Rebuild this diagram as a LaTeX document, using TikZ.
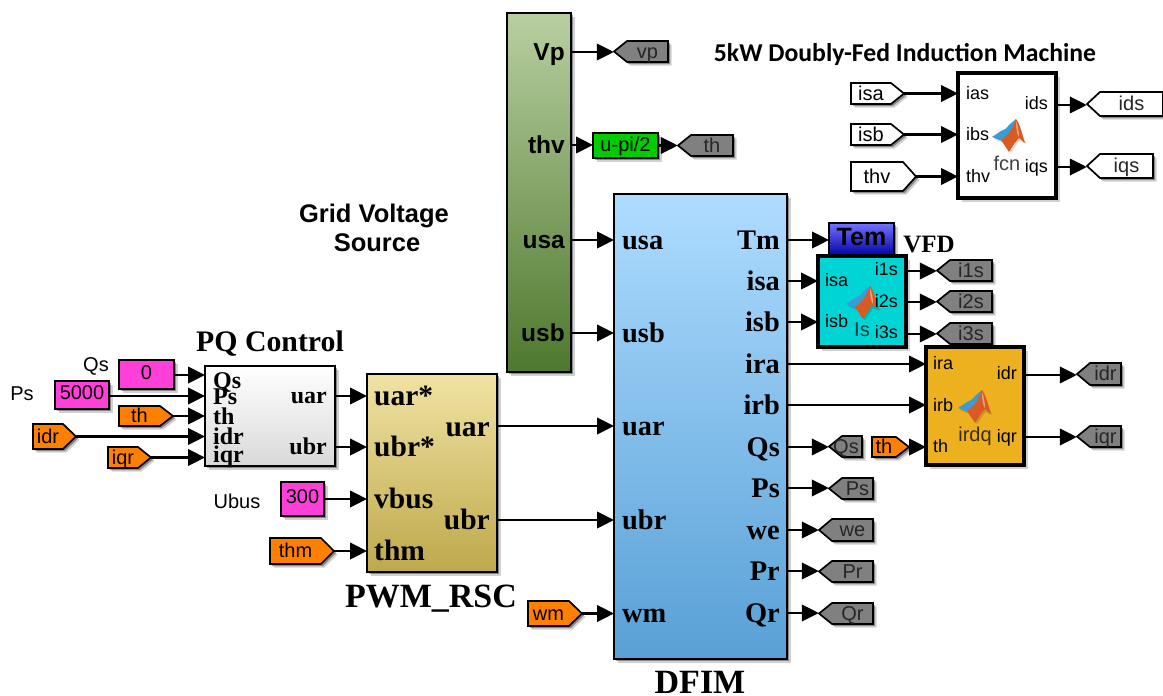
\documentclass[tikz,border=0pt]{standalone}
\usepackage{fontspec}
\setmainfont{Liberation Sans}
\newfontfamily\tmsfont{Liberation Serif}
\newfontfamily\calfont{Carlito}
\usetikzlibrary{arrows.meta,shadows,fit}
\definecolor{magc}{HTML}{FF40D8}
\definecolor{orgc}{HTML}{FF8000}
\definecolor{gryc}{HTML}{808080}
\definecolor{grnc}{HTML}{00CC00}
\definecolor{cync}{HTML}{00D4D4}
\definecolor{ambc}{HTML}{EDB120}
\definecolor{logob}{HTML}{3A9BD5}
\definecolor{logoo}{HTML}{D95B24}
\definecolor{logol}{HTML}{F0A080}
\newcommand\fsz[1]{\fontsize{#1}{#1}\selectfont}
\newcounter{lblc}
% options, anchor, x, y (middle of the lower-case letters), size, text
\newcommand\lb[6][]{\stepcounter{lblc}\node[anchor=#2,inner sep=0,#1] (lbl\arabic{lblc}) at ({#3},{(#4)+0.33*#5}) {\fsz{#5}#6};}
% block: style, name, x1,y1,x2,y2
\newcommand\blk[6]{\node[#1,inner sep=0,fit={(#3,#4)(#5,#6)}] (#2) {};}
\newcommand\port[3]{\coordinate (#1) at (#2,#3);}
% right-pointing tag: fill, name, x1,y1,x2,y2, text
\newcommand\tagR[8][0]{%
 \path[tagbox,fill=#2] (#4,#5) -- ({#6-13},#5) -- (#6,{(#5+#7)/2}) -- ({#6-13},#7) -- (#4,#7) -- cycle;
 \node[inner sep=0,fit={(#4,#5)(#6,#7)}] (#3) {};
 \lb{base}{(#4+#6-13)/2+#1}{(#5+#7)/2}{20}{#8}}
% left-pointing tag
\newcommand\tagL[8][0]{%
 \path[tagbox,fill=#2] (#4,{(#5+#7)/2}) -- ({#4+13},#5) -- (#6,#5) -- (#6,#7) -- ({#4+13},#7) -- cycle;
 \node[inner sep=0,fit={(#4,#5)(#6,#7)}] (#3) {};
 \lb[text=black!85]{base}{(#4+13+#6)/2+#1}{(#5+#7)/2}{20}{#8}}
% MATLAB logo, 33 x 33 box
\newcommand\mlogo[2]{\begin{scope}[shift={(#1,#2)}]
 \fill[black,opacity=.15] (2,20) -- (12,24) -- (19,34) -- (27,22) -- (34,25) -- (26,3) -- cycle;
 \fill[logob] (0,18) -- (9,12) -- (14,9.5) -- (18,5) -- (24,0) -- (18,15) -- (10,22) -- cycle;
 \fill[logoo] (24,0) .. controls (28,5) and (30,15) .. (33,24) -- (27,19) .. controls (23,23) and (20,28) .. (17,33) -- (9,21) -- (14,17) .. controls (19,13) and (21,7) .. (24,0) -- cycle;
 \fill[logol] (24,2) .. controls (26,7) and (27,13) .. (27,18) .. controls (25,16) and (24,9) .. (24,2) -- cycle;
\end{scope}}
\tikzset{
 softshadow/.style={general shadow={shadow xshift=3.5pt,shadow yshift=-3.5pt,opacity=.18,fill=black},general shadow={shadow xshift=2pt,shadow yshift=-2pt,opacity=.35,fill=black}},
 boxbase/.style={draw=black,line width=1.8pt,softshadow},
 tagbox/.style={draw=black,line width=1.7pt,line join=miter,softshadow},
 heavy/.style={draw=black,line width=3.6pt,softshadow},
 wire/.style={draw=black,line width=2.4pt,-{Triangle[length=17pt,width=16.5pt]}},
 tm/.style={execute at begin node=\tmsfont\bfseries},
}
\begin{document}
\begin{tikzpicture}[x=1pt,y=-1pt]
\useasboundingbox (0,0) rectangle (1163,696);
% === blocks
\blk{boxbase,top color=white,bottom color=black!15}{pq}{205}{366}{335}{466}
\blk{boxbase,top color={rgb,255:red,240;green,227;blue,163},bottom color={rgb,255:red,190;green,168;blue,75}}{pwm}{367}{374}{497}{572}
\blk{boxbase,top color={rgb,255:red,184;green,207;blue,160},bottom color={rgb,255:red,78;green,120;blue,46}}{grid}{507}{13}{571}{372}
\blk{boxbase,top color={rgb,255:red,174;green,220;blue,255},bottom color={rgb,255:red,88;green,160;blue,214}}{dfim}{614}{194}{787}{659}
\blk{boxbase,top color=blue!55!white,bottom color=blue!65!black}{tem}{829}{223}{894}{256}
\lb[font=\bfseries]{base}{861.5}{237}{25}{Tem}
\blk{heavy,fill=white}{fcn}{958}{73}{1056}{198}
\blk{heavy,fill=cync}{vfd}{818}{256}{906}{347}
\blk{heavy,fill=ambc}{irdq}{926}{347}{1024}{465}
\blk{boxbase,fill=grnc}{upi}{593}{133}{658}{158}
\lb{base}{625.5}{145}{20}{u-pi/2}
\blk{boxbase,fill=magc}{cqs}{119}{360}{174}{389}
\lb{base}{146.5}{373}{20}{0}
\blk{boxbase,fill=magc}{cps}{55}{381}{109}{409}
\lb{base}{82}{393}{20}{5000}
\blk{boxbase,fill=magc}{cub}{281}{482}{324}{516}
\lb{base}{302.5}{497}{20}{300}
% === tags
\tagR{orgc}{tth}{119}{406}{173}{426}{th}
\tagR{orgc}{tidr}{33}{424}{76}{449}{idr}
\tagR{orgc}{tiqr}{108}{447}{151}{468}{iqr}
\tagR{orgc}{tthm}{270}{538}{334}{564}{thm}
\tagR{orgc}{twm}{528}{601}{582}{626}{wm}
\tagR{orgc}{tth2}{872}{437}{909}{457}{th}
\tagR{white}{tisa}{851}{83}{904}{104}{isa}
\tagR{white}{tisb}{851}{124}{904}{145}{isb}
\tagR{white}{tthv}{851}{162}{916}{191}{thv}
\tagL{white}{tids}{1087}{92}{1163}{116}{ids}
\tagL{white}{tiqs}{1087}{154}{1153}{178}{iqs}
\tagL{gryc}{tvp}{614}{41}{668}{62}{vp}
\tagL{gryc}{tthg}{678}{135}{733}{156}{th}
\tagL{gryc}{ti1}{937}{260}{992}{281}{i1s}
\tagL{gryc}{ti2}{937}{291}{992}{312}{i2s}
\tagL{gryc}{ti3}{937}{323}{992}{344}{i3s}
\tagL{gryc}{tidro}{1077}{363}{1121}{385}{idr}
\tagL{gryc}{tiqro}{1077}{426}{1121}{447}{iqr}
\tagL[-6]{gryc}{tqs}{829}{436}{862}{457}{Qs}
\tagL{gryc}{tps}{829}{478}{873}{499}{Ps}
\tagL{gryc}{twe}{819}{519}{873}{541}{we}
\tagL{gryc}{tpr}{819}{561}{873}{582}{Pr}
\tagL{gryc}{tqr}{819}{603}{873}{624}{Qr}
% === ports
\port{pqA}{205}{375}\port{pqB}{205}{396}\port{pqC}{205}{417}\port{pqD}{205}{437}\port{pqE}{205}{458}
\port{pqU}{335}{396}\port{pqV}{335}{447}
\port{pwA}{367}{396}\port{pwB}{367}{447}\port{pwC}{367}{499}\port{pwD}{367}{551}
\port{pwU}{497}{426}\port{pwV}{497}{520}
\port{grA}{571}{52}\port{grB}{571}{145}\port{grC}{571}{240}\port{grD}{571}{333}
\port{dfA}{614}{240}\port{dfB}{614}{333}\port{dfC}{614}{426}\port{dfD}{614}{520}\port{dfE}{614}{613}
\port{doA}{787}{240}\port{doB}{787}{281}\port{doC}{787}{322}\port{doD}{787}{364}\port{doE}{787}{405}
\port{doF}{787}{447}\port{doG}{787}{488}\port{doH}{787}{530}\port{doI}{787}{571}\port{doJ}{787}{613}
\port{vfA}{818}{281}\port{vfB}{818}{322}\port{vfU}{906}{271}\port{vfV}{906}{302}\port{vfW}{906}{334}
\port{irA}{926}{364}\port{irB}{926}{405}\port{irC}{926}{447}\port{irU}{1024}{375}\port{irV}{1024}{437}
\port{fcA}{958}{94}\port{fcB}{958}{135}\port{fcC}{958}{177}\port{fcU}{1056}{105}\port{fcV}{1056}{167}
\port{temI}{829}{240}
\port{upiI}{593}{145}
% === connectors
\draw[wire] (cqs.east |- pqA) -- (pqA);
\draw[wire] (cps.east |- pqB) -- (pqB);
\draw[wire] (tth.east) -- (tth.east -| pqC);
\draw[wire] (tidr.east) -- (tidr.east -| pqD);
\draw[wire] (tiqr.east) -- (tiqr.east -| pqE);
\draw[wire] (pqU) -- (pwA);
\draw[wire] (pqV) -- (pwB);
\draw[wire] (cub.east |- pwC) -- (pwC);
\draw[wire] (tthm.east) -- (tthm.east -| pwD);
\draw[wire] (pwU) -- (dfC);
\draw[wire] (pwV) -- (dfD);
\draw[wire] (grA) -- (tvp.west |- grA);
\draw[wire] (grB) -- (upiI);
\draw[wire] (upi.east) -- (tthg.west |- upi.east);
\draw[wire] (grC) -- (dfA);
\draw[wire] (grD) -- (dfB);
\draw[wire] (twm.east) -- (twm.east -| dfE);
\draw[wire] (doA) -- (temI);
\draw[wire] (doB) -- (vfA);
\draw[wire] (doC) -- (vfB);
\draw[wire] (doD) -- (irA);
\draw[wire] (doE) -- (irB);
\draw[wire] (doF) -- (tqs.west |- doF);
\draw[wire] (doG) -- (tps.west |- doG);
\draw[wire] (doH) -- (twe.west |- doH);
\draw[wire] (doI) -- (tpr.west |- doI);
\draw[wire] (doJ) -- (tqr.west |- doJ);
\draw[wire] (vfU) -- (ti1.west |- vfU);
\draw[wire] (vfV) -- (ti2.west |- vfV);
\draw[wire] (vfW) -- (ti3.west |- vfW);
\draw[wire] (tth2.east) -- (tth2.east -| irC);
\draw[wire] (irU) -- (tidro.west |- irU);
\draw[wire] (irV) -- (tiqro.west |- irV);
\draw[wire] (tisa.east) -- (tisa.east -| fcA);
\draw[wire] (tisb.east) -- (tisb.east -| fcB);
\draw[wire] (tthv.east) -- (tthv.east -| fcC);
\draw[wire] (fcU) -- (tids.west |- fcU);
\draw[wire] (fcV) -- (tiqs.west |- fcV);
% === logos
\mlogo{992}{119}\mlogo{846}{286}\mlogo{958}{390}
% === titles
\lb[font=\calfont\bfseries]{base}{905}{53}{25.7}{\calfont\bfseries 5kW Doubly-Fed Induction Machine}
\lb{base}{374}{214}{25.5}{\bfseries Grid Voltage}
\lb{base}{377}{243}{25.5}{\bfseries Source}
\lb[tm]{base}{270}{342}{29.8}{PQ Control}
\lb[tm]{base}{431}{596}{34}{PWM\_RSC}
\lb[tm]{base}{700}{682}{34}{DFIM}
\lb[tm]{base}{929}{244}{25}{VFD}
\lb{base}{96}{365}{20}{Qs}
\lb{base}{22}{394}{20}{Ps}
\lb{base}{237}{502}{20}{Ubus}
% === PQ
\lb[tm]{base west}{213}{381}{24}{Qs}
\lb[tm]{base west}{213}{397}{24}{Ps}
\lb[tm]{base west}{213}{417}{24}{th}
\lb[tm]{base west}{213}{437}{24}{idr}
\lb[tm]{base west}{213}{455}{24}{iqr}
\lb[tm]{base east}{327}{396}{24}{uar}
\lb[tm]{base east}{327}{447}{24}{ubr}
% === PWM
\lb[tm]{base west}{374}{396}{29.5}{uar*}
\lb[tm]{base west}{374}{447}{29.5}{ubr*}
\lb[tm]{base west}{374}{499}{29.5}{vbus}
\lb[tm]{base west}{374}{551}{29.5}{thm}
\lb[tm]{base east}{490}{427}{29.5}{uar}
\lb[tm]{base east}{490}{520}{29.5}{ubr}
% === grid
\lb{base east}{565}{52}{24.5}{\bfseries Vp}
\lb{base east}{565}{145}{24.5}{\bfseries thv}
\lb{base east}{565}{240}{24.5}{\bfseries usa}
\lb{base east}{565}{333}{24.5}{\bfseries usb}
% === DFIM
\lb[tm]{base west}{622}{240}{28.4}{usa}
\lb[tm]{base west}{622}{333}{28.4}{usb}
\lb[tm]{base west}{622}{426}{28.4}{uar}
\lb[tm]{base west}{622}{520}{28.4}{ubr}
\lb[tm]{base west}{622}{613}{28.4}{wm}
\lb[tm]{base east}{780}{240}{28.4}{Tm}
\lb[tm]{base east}{780}{281}{28.4}{isa}
\lb[tm]{base east}{780}{322}{28.4}{isb}
\lb[tm]{base east}{780}{364}{28.4}{ira}
\lb[tm]{base east}{780}{405}{28.4}{irb}
\lb[tm]{base east}{780}{447}{28.4}{Qs}
\lb[tm]{base east}{780}{488}{28.4}{Ps}
\lb[tm]{base east}{780}{530}{28.4}{we}
\lb[tm]{base east}{780}{571}{28.4}{Pr}
\lb[tm]{base east}{780}{613}{28.4}{Qr}
% === fcn
\lb{base west}{966}{94}{18}{ias}
\lb{base west}{966}{135}{18}{ibs}
\lb{base west}{966}{177}{18}{thv}
\lb{base east}{1048}{104}{18}{ids}
\lb{base east}{1048}{167}{18}{iqs}
\lb[text=black!75]{base}{1007}{164}{20}{fcn}
% === VFD
\lb{base west}{825}{281}{18}{isa}
\lb{base west}{825}{322}{18}{isb}
\lb{base east}{898}{270}{18}{i1s}
\lb{base east}{898}{302}{18}{i2s}
\lb{base east}{898}{333}{18}{i3s}
\lb[text=black!70!cync]{base}{862}{330}{20}{Is}
% === irdq
\lb{base west}{933}{364}{18}{ira}
\lb{base west}{933}{406}{18}{irb}
\lb{base west}{933}{447}{18}{th}
\lb{base east}{1017}{374}{18}{idr}
\lb{base east}{1017}{437}{18}{iqr}
\lb[text=black!75!ambc]{base}{975}{435}{20}{irdq}
\end{tikzpicture}
\end{document}
